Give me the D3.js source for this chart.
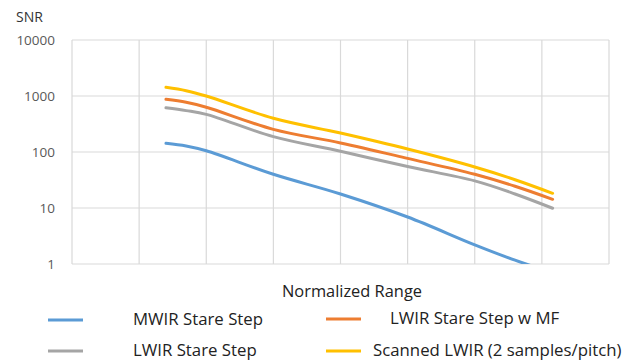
<!DOCTYPE html>
<html><head><meta charset="utf-8">
<script src="https://cdn.jsdelivr.net/npm/d3@7"></script>
<style>body{margin:0;background:#fff;} svg{display:block;font-family:"Open Sans",sans-serif;}</style>
</head><body><svg id="c" width="637" height="362"></svg>
<script>
const xVals = [1.4, 1.7, 2.0, 3.0, 4.0, 5.0, 6.0, 6.6, 7.16];
const mwir = [143, 128, 105, 40, 17.8, 6.9, 2.2, 1.17, 0.7];
const lwirMF = [873, 771, 630, 254, 145, 77, 40, 24.5, 14.3];
const lwir = [617, 548, 470, 188, 103, 55, 30.5, 17.8, 9.9];
const scanned = [1430, 1245, 1000, 400, 218, 113, 54, 32, 18.3];
const yTicks = [1, 10, 100, 1000, 10000];
const seriesNames = ["MWIR Stare Step", "LWIR Stare Step w MF", "LWIR Stare Step", "Scanned LWIR (2 samples/pitch)"];
const seriesColors = ["#5b9bd5", "#ed7d31", "#a5a5a5", "#ffc000"];
const seriesData = [mwir, lwirMF, lwir, scanned];

const svg = d3.select("#c");
const L = 72, R = 609, T = 40, B = 264;
const x = d3.scaleLinear().domain([0, 8]).range([L, R]);
const y = d3.scaleLog().domain([1, 10000]).range([B, T]);

const g = svg.append("g");
g.selectAll("line.h").data(yTicks).join("line")
  .attr("x1", L).attr("x2", R).attr("y1", d => y(d)).attr("y2", d => y(d))
  .attr("stroke", "#d9d9d9").attr("stroke-width", 1.2);
g.selectAll("line.v").data(d3.range(0, 9)).join("line")
  .attr("y1", T).attr("y2", B).attr("x1", d => x(d)).attr("x2", d => x(d))
  .attr("stroke", "#d9d9d9").attr("stroke-width", 1.2);

const yAxis = d3.axisLeft(y).tickValues(yTicks).tickFormat(d3.format("d")).tickSize(0).tickPadding(17);
const ya = svg.append("g").attr("transform", `translate(${L},0)`).call(yAxis);
ya.select(".domain").remove();
ya.selectAll("text").attr("fill", "#595959").style("font-size", "13.5px").style("font-family", "'Open Sans',sans-serif");

svg.append("defs").append("clipPath").attr("id", "clip")
  .append("rect").attr("x", L).attr("y", T - 5).attr("width", R - L).attr("height", B - T + 5);

const line = d3.line().x((d, i) => x(xVals[i])).y(d => y(d)).curve(d3.curveCatmullRom.alpha(0.5));
svg.append("g").attr("clip-path", "url(#clip)").selectAll("path").data([0, 2, 1, 3]).join("path")
  .attr("d", i => line(seriesData[i]))
  .attr("fill", "none").attr("stroke", i => seriesColors[i]).attr("stroke-width", 3)
  .attr("stroke-linecap", "round");

svg.append("text").attr("x", 16).attr("y", 22).text("SNR")
  .attr("fill", "#333").style("font-size", "14px");
svg.append("text").attr("x", 352).attr("y", 297).attr("text-anchor", "middle").text("Normalized Range")
  .attr("fill", "#222").style("font-size", "16.4px");

const legPos = [[48, 133, 320, 325], [326, 390, 319, 324], [48, 133, 351, 356], [326, 373, 351, 356]];
const lg = svg.append("g").selectAll("g").data(d3.range(4)).join("g");
lg.append("line").attr("x1", i => legPos[i][0]).attr("x2", i => legPos[i][0] + 35)
  .attr("y1", i => legPos[i][2]).attr("y2", i => legPos[i][2])
  .attr("stroke", i => seriesColors[i]).attr("stroke-width", 3);
lg.append("text").attr("x", i => legPos[i][1]).attr("y", i => legPos[i][3])
  .text(i => seriesNames[i]).attr("fill", "#222").style("font-size", "16.8px");
</script></body></html>
